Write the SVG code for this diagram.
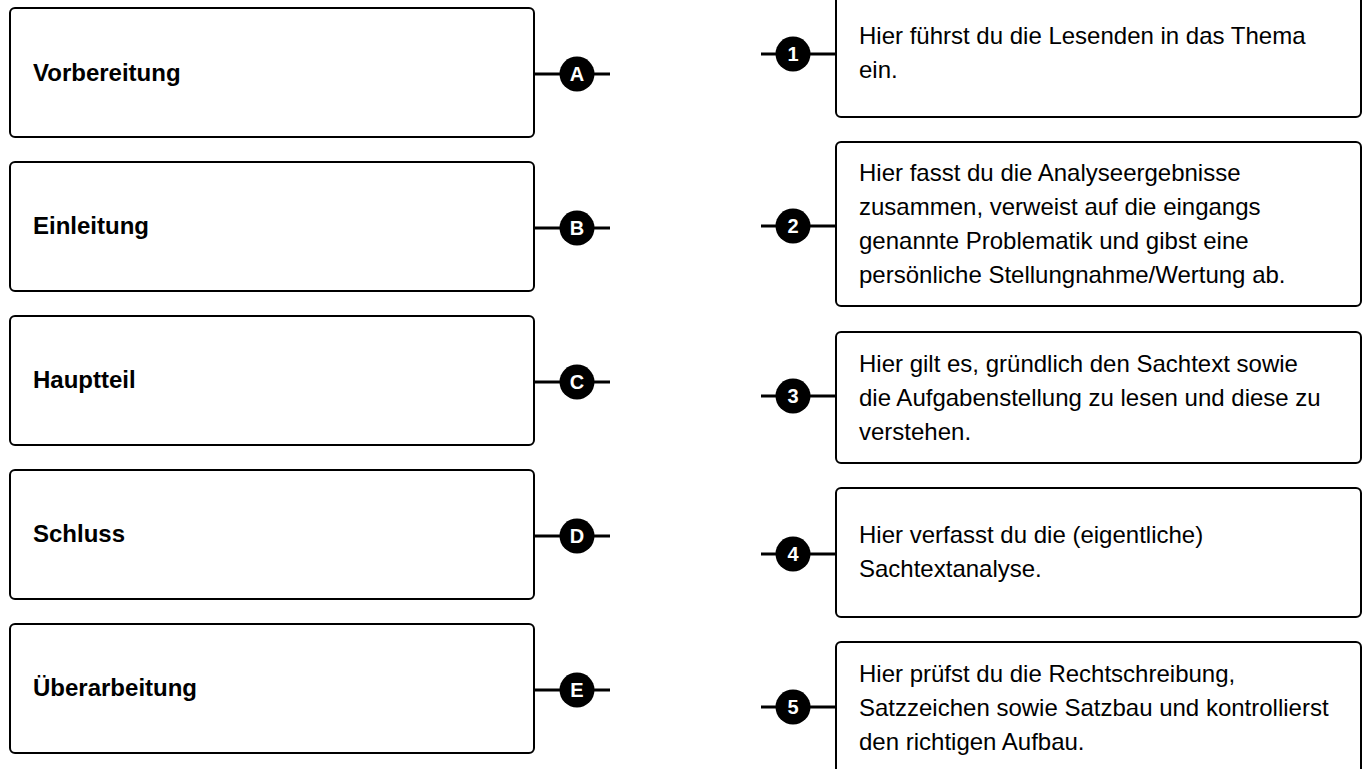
<svg xmlns="http://www.w3.org/2000/svg" width="1364" height="769" viewBox="0 0 1364 769">
<style>
.box{fill:#fff;stroke:#000;stroke-width:2}
.lt{font-family:"Liberation Sans",Arial,sans-serif;font-size:24px;font-weight:bold;fill:#000}
.rt{font-family:"Liberation Sans",Arial,sans-serif;font-size:24px;fill:#000}
.ln{stroke:#000;stroke-width:3;fill:none}
.dot{fill:#000}
.dl{font-family:"Liberation Sans",Arial,sans-serif;font-size:20px;font-weight:bold;fill:#fff;text-anchor:middle}
</style>
<rect width="1364" height="769" fill="#fff"/>
<g id="left-A"><rect class="box" x="10" y="8" width="524" height="129" rx="5"/><text class="lt" x="33" y="81">Vorbereitung</text></g>
<g id="left-B"><rect class="box" x="10" y="162" width="524" height="129" rx="5"/><text class="lt" x="33" y="234">Einleitung</text></g>
<g id="left-C"><rect class="box" x="10" y="316" width="524" height="129" rx="5"/><text class="lt" x="33" y="388">Hauptteil</text></g>
<g id="left-D"><rect class="box" x="10" y="470" width="524" height="129" rx="5"/><text class="lt" x="33" y="542">Schluss</text></g>
<g id="left-E"><rect class="box" x="10" y="624" width="524" height="129" rx="5"/><text class="lt" x="33" y="696">Überarbeitung</text></g>
<g id="right-1"><rect class="box" x="836" y="-9" width="525" height="126" rx="5"/><text class="rt" x="859" y="44">Hier führst du die Lesenden in das Thema</text><text class="rt" x="859" y="78">ein.</text></g>
<g id="right-2"><rect class="box" x="836" y="142" width="525" height="164" rx="5"/><text class="rt" x="859" y="181">Hier fasst du die Analyseergebnisse</text><text class="rt" x="859" y="215">zusammen, verweist auf die eingangs</text><text class="rt" x="859" y="249">genannte Problematik und gibst eine</text><text class="rt" x="859" y="283">persönliche Stellungnahme/Wertung ab.</text></g>
<g id="right-3"><rect class="box" x="836" y="332" width="525" height="131" rx="5"/><text class="rt" x="859" y="372">Hier gilt es, gründlich den Sachtext sowie</text><text class="rt" x="859" y="406">die Aufgabenstellung zu lesen und diese zu</text><text class="rt" x="859" y="440">verstehen.</text></g>
<g id="right-4"><rect class="box" x="836" y="488" width="525" height="129" rx="5"/><text class="rt" x="859" y="543">Hier verfasst du die (eigentliche)</text><text class="rt" x="859" y="577">Sachtextanalyse.</text></g>
<g id="right-5"><rect class="box" x="836" y="642" width="525" height="135" rx="5"/><text class="rt" x="859" y="682">Hier prüfst du die Rechtschreibung,</text><text class="rt" x="859" y="716">Satzzeichen sowie Satzbau und kontrollierst</text><text class="rt" x="859" y="750">den richtigen Aufbau.</text></g>
<g id="connectors">
<path class="ln" d="M534 74H610M534 228H610M534 382H610M534 536H610M534 690H610"/>
<path class="ln" d="M761 54H836M761 226H836M761 396H836M761 554H836M761 707H836"/>
<g class="dot"><circle cx="577" cy="74" r="17.5"/><circle cx="577" cy="228" r="17.5"/><circle cx="577" cy="382" r="17.5"/><circle cx="577" cy="536" r="17.5"/><circle cx="577" cy="690" r="17.5"/>
<circle cx="793" cy="54" r="17.5"/><circle cx="793" cy="226" r="17.5"/><circle cx="793" cy="396" r="17.5"/><circle cx="793" cy="554" r="17.5"/><circle cx="793" cy="707" r="17.5"/></g>
<text class="dl" x="577" y="81">A</text><text class="dl" x="577" y="235">B</text><text class="dl" x="577" y="389">C</text><text class="dl" x="577" y="543">D</text><text class="dl" x="577" y="697">E</text>
<text class="dl" x="793" y="61">1</text><text class="dl" x="793" y="233">2</text><text class="dl" x="793" y="403">3</text><text class="dl" x="793" y="561">4</text><text class="dl" x="793" y="714">5</text>
</g>
</svg>
